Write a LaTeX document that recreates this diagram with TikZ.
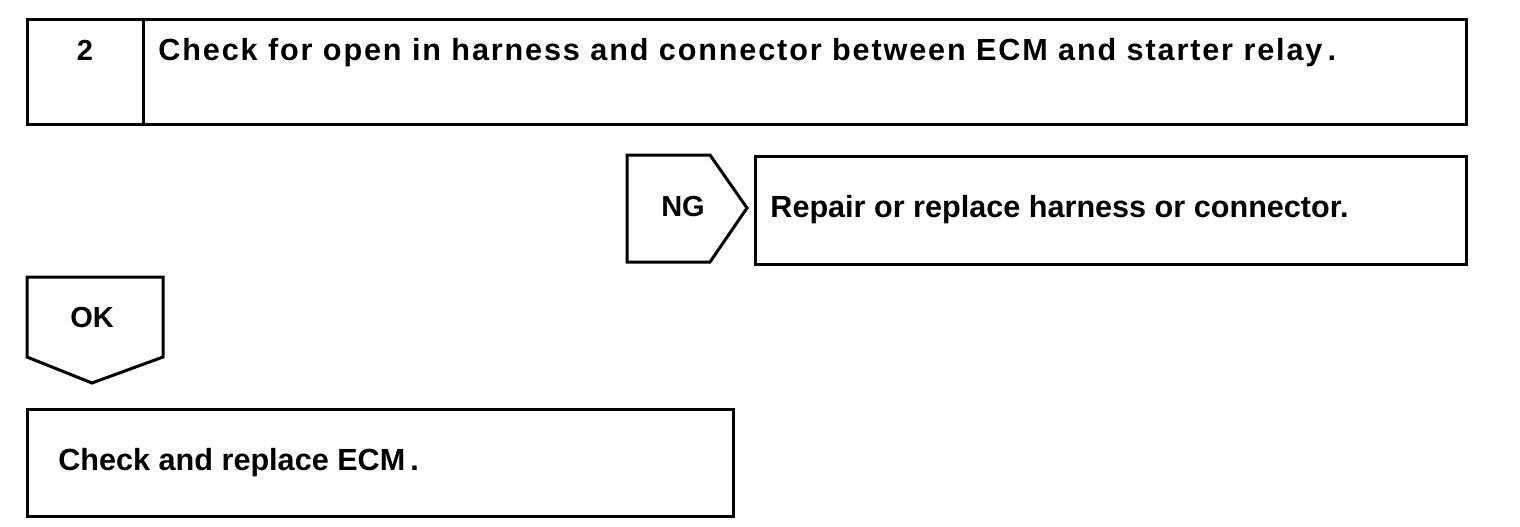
\documentclass[tikz,border=0pt]{standalone}
\usepackage{fontspec}
\setmainfont{Liberation Sans}
\begin{document}
\begin{tikzpicture}[x=0.5pt,y=-0.5pt]
\tikzset{
  frame/.style={draw, line width=1.5pt, line join=miter},
  tag/.style={font=\bfseries\fontsize{14.5}{16}\selectfont, inner sep=0pt},
  lbl/.style={font=\bfseries\fontsize{15.3}{17}\selectfont, inner sep=0pt},
  headlbl/.style={font=\bfseries\fontsize{15.3}{17}\selectfont\addfontfeature{LetterSpace=6.1}, inner sep=0pt}
}
\useasboundingbox (0,0) rectangle (1520,526);
% step box
\draw[frame] (27,19) rectangle (1466,124);
\draw[frame] (143,19) -- (143,124);
\node[tag, anchor=base] (num) at (85,60) {2};
\node[headlbl, anchor=base west] (title) at (158,60) {Check for open in harness and connector between ECM and starter relay\,.};
% NG
\draw[frame] (627,155) -- (710,155) -- (747,208) -- (710,262) -- (627,262) -- cycle;
\node[tag, anchor=base] (ng) at (683,216) {NG};
\draw[frame] (755,156) rectangle (1466,264);
\node[lbl, anchor=base west] (repair) at (770,217) {Repair or replace harness or connector.};
% OK
\draw[frame] (27,277) -- (163,277) -- (163,357) -- (92,383) -- (27,357) -- cycle;
\node[tag, anchor=base] (ok) at (92,327) {OK};
\draw[frame] (27,409) rectangle (733,516);
\node[lbl, anchor=base west] (ecm) at (58,470) {Check and replace ECM\,.};
\end{tikzpicture}
\end{document}
